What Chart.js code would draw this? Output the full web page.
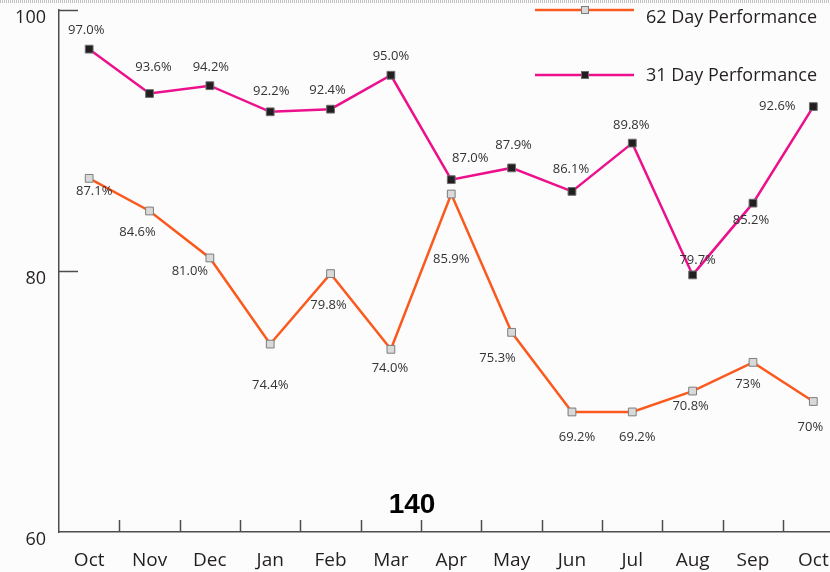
<!DOCTYPE html>
<html>
<head>
<meta charset="utf-8">
<script src="https://cdn.jsdelivr.net/npm/chart.js@4"></script>
<style>
  html, body { margin: 0; padding: 0; overflow: hidden; background: #fcfcfc; }
  #wrap { width: 850px; height: 572px; }
</style>
</head>
<body>
<div id="wrap"><canvas id="perfChart" width="850" height="572"></canvas></div>
<script>
const months = ['Oct', 'Nov', 'Dec', 'Jan', 'Feb', 'Mar', 'Apr', 'May', 'Jun', 'Jul', 'Aug', 'Sep', 'Oct'];
const perf62 = [87.1, 84.6, 81.0, 74.4, 79.8, 74.0, 85.9, 75.3, 69.2, 69.2, 70.8, 73, 70];
const perf31 = [97.0, 93.6, 94.2, 92.2, 92.4, 95.0, 87.0, 87.9, 86.1, 89.8, 79.7, 85.2, 92.6];
const digits62 = [1, 1, 1, 1, 1, 1, 1, 1, 1, 1, 1, 0, 0];
const digits31 = [1, 1, 1, 1, 1, 1, 1, 1, 1, 1, 1, 1, 1];
const yTicks = [60, 80, 100];
const centreNote = '140';

// where each value label sits relative to its point
const labelShift62 = [[5, 13], [-12, 21], [-20, 13], [0, 41], [-2, 32], [-1, 19], [0, 65], [-14, 26], [5, 25], [5, 25], [-2, 15], [-5, 22], [-3, 26]];
const labelShift31 = [[-3, -19], [4, -26], [1, -18], [1, -20], [-3, -19], [0, -19], [19, -21], [2, -23], [-1, -22], [-1, -18], [5, -15], [-2, 17], [-36, 0]];

const ORANGE = '#fb5a1e';
const PINK = '#ec108c';
const AXIS = '#4d4d4d';
const TEXT = '#231f20';

const extras = {
    id: 'extras',
    beforeDraw(chart) {
        const ctx = chart.ctx;
        ctx.save();
        ctx.fillStyle = '#fcfcfc';
        ctx.fillRect(0, 0, chart.width, chart.height);
        // dotted edge along the top
        ctx.strokeStyle = '#c2c2c2';
        ctx.lineWidth = 3;
        ctx.setLineDash([1, 1]);
        ctx.beginPath();
        ctx.moveTo(0, 1.5);
        ctx.lineTo(chart.width, 1.5);
        ctx.stroke();
        ctx.restore();
    },
    afterDatasetsDraw(chart) {
        const ctx = chart.ctx;
        const xs = chart.scales.x, ys = chart.scales.y;
        const area = chart.chartArea;
        ctx.save();

        // tick marks: y inward, x upward between categories
        ctx.strokeStyle = AXIS;
        ctx.lineWidth = 1.5;
        ctx.beginPath();
        yTicks.slice(1).forEach(v => {
            const y = Math.round(ys.getPixelForValue(v)) + 0.5;
            ctx.moveTo(area.left, y);
            ctx.lineTo(area.left + 19, y);
        });
        for (let i = 0; i < months.length - 1; i++) {
            const x = Math.round((xs.getPixelForTick(i) + xs.getPixelForTick(i + 1)) / 2) + 0.5;
            ctx.moveTo(x, area.bottom);
            ctx.lineTo(x, area.bottom - 12);
        }
        ctx.stroke();

        // axis labels
        ctx.fillStyle = TEXT;
        ctx.textBaseline = 'middle';
        ctx.font = '18px "Open Sans"';
        ctx.textAlign = 'right';
        yTicks.forEach(v => ctx.fillText(String(v), area.left - 13, ys.getPixelForValue(v) + 8));
        ctx.font = '19px "Open Sans"';
        ctx.textAlign = 'center';
        months.forEach((m, i) => ctx.fillText(m, xs.getPixelForTick(i), area.bottom + 29));

        // value labels
        ctx.font = '13px "Open Sans"';
        ctx.fillStyle = '#333';
        const sets = [[perf62, digits62, labelShift62], [perf31, digits31, labelShift31]];
        sets.forEach(([vals, digs, shifts], d) => {
            const meta = chart.getDatasetMeta(d);
            meta.data.forEach((pt, i) => {
                const txt = vals[i].toFixed(digs[i]) + '%';
                ctx.fillText(txt, pt.x + shifts[i][0], pt.y + shifts[i][1]);
            });
        });

        // legend
        const legendRows = [{ lineY: 10, textY: 18 }, { lineY: 75, textY: 76 }];
        chart.data.datasets.forEach((ds, d) => {
            const row = legendRows[d];
            ctx.strokeStyle = ds.borderColor;
            ctx.lineWidth = 2.5;
            ctx.beginPath();
            ctx.moveTo(535, row.lineY);
            ctx.lineTo(634, row.lineY);
            ctx.stroke();
            ctx.fillStyle = ds.pointBackgroundColor;
            ctx.strokeStyle = ds.pointBorderColor;
            ctx.lineWidth = 1;
            ctx.fillRect(581.5, row.lineY - 3.5, 7, 7);
            ctx.strokeRect(581.5, row.lineY - 3.5, 7, 7);
            ctx.fillStyle = TEXT;
            ctx.font = '18px "Open Sans"';
            ctx.textAlign = 'left';
            ctx.fillText(ds.label, 646, row.textY);
        });

        ctx.font = 'bold 28px "Liberation Sans"';
        ctx.textAlign = 'center';
        ctx.fillStyle = '#000';
        ctx.fillText(centreNote, 412, 505);
        ctx.restore();
    }
};

new Chart(document.getElementById('perfChart'), {
    type: 'line',
    data: {
        labels: months,
        datasets: [
            {
                label: '62 Day Performance',
                data: perf62,
                borderColor: ORANGE,
                borderWidth: 2.5,
                pointStyle: 'rect',
                pointRadius: 5.5,
                pointBorderWidth: 1,
                pointBackgroundColor: '#d9d9d9',
                pointBorderColor: '#7d7d7d',
                tension: 0
            },
            {
                label: '31 Day Performance',
                data: perf31,
                borderColor: PINK,
                borderWidth: 2.5,
                pointStyle: 'rect',
                pointRadius: 5.5,
                pointBorderWidth: 1,
                pointBackgroundColor: '#231f20',
                pointBorderColor: '#6d6d6d',
                tension: 0
            }
        ]
    },
    options: {
        responsive: false,
        animation: false,
        devicePixelRatio: 1,
        layout: { padding: { top: 10, right: 0, left: 0, bottom: 0 } },
        plugins: { legend: { display: false }, tooltip: { enabled: false } },
        events: [],
        scales: {
            x: {
                offset: true,
                grid: { display: false, drawTicks: false },
                border: { display: true, color: AXIS, width: 1.5 },
                ticks: { display: false },
                afterFit: s => { s.height = 40; }
            },
            y: {
                min: 60,
                max: 100,
                grid: { display: false, drawTicks: false },
                border: { display: true, color: AXIS, width: 1.5 },
                ticks: { display: false },
                afterFit: s => { s.width = 59; }
            }
        }
    },
    plugins: [extras]
});
</script>
</body>
</html>
